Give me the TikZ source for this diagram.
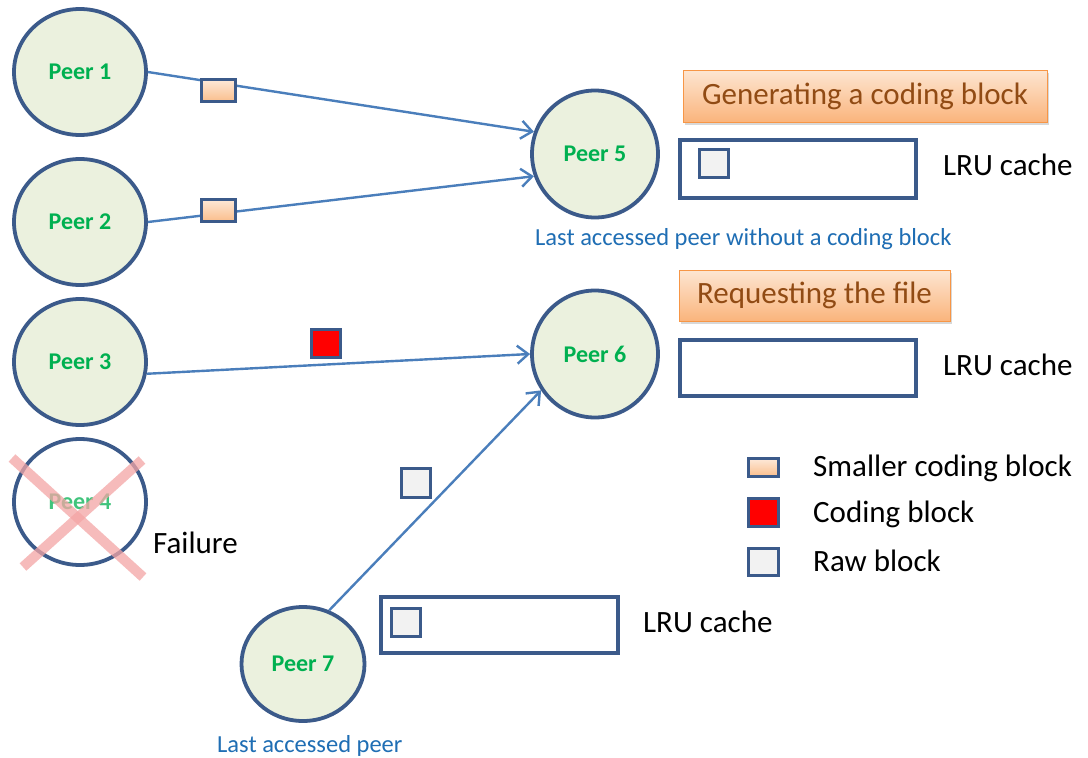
\documentclass[tikz,border=0pt]{standalone}
\usepackage{fontspec}
\setmainfont{Carlito}
\usetikzlibrary{shapes.geometric,arrows.meta,shadows}
\definecolor{peerborder}{RGB}{59,90,138}
\definecolor{peerfill}{RGB}{235,241,222}
\definecolor{peergreen}{RGB}{0,176,80}
\definecolor{linkblue}{RGB}{74,126,187}
\definecolor{captionblue}{RGB}{31,110,180}
\definecolor{labeltext}{RGB}{145,75,20}
\definecolor{labeltop}{RGB}{253,230,210}
\definecolor{labelbot}{RGB}{250,180,124}
\definecolor{labelborder}{RGB}{247,150,70}
\definecolor{smalltop}{RGB}{253,233,217}
\definecolor{smallbot}{RGB}{250,190,140}
\definecolor{rawfill}{RGB}{242,242,242}
\definecolor{crosspink}{RGB}{244,165,165}
\tikzset{
  peer/.style={ellipse, draw=peerborder, line width=3.8pt, fill=peerfill,
    minimum width=132pt, minimum height=126pt, inner sep=0pt,
    font=\fontsize{24}{28}\selectfont\bfseries, text=peergreen},
  link/.style={draw=linkblue, line width=2.4pt,
    -{Straight Barb[length=11pt,width=18pt,line width=2.4pt]}},
  blk/.style={draw=peerborder, line width=3pt, inner sep=0pt},
  smallblk/.style={blk, top color=smalltop, bottom color=smallbot},
  codeblk/.style={blk, fill=red},
  rawblk/.style={blk, fill=rawfill},
  cachebox/.style={draw=peerborder, line width=4pt, inner sep=0pt},
  stagebox/.style={draw=labelborder, line width=0.8pt, top color=labeltop,
    bottom color=labelbot, inner sep=0pt, text=labeltext,
    font=\fontsize{31}{36}\selectfont,
    drop shadow={shadow xshift=2pt, shadow yshift=-3pt, opacity=0.3}},
  txt/.style={anchor=base west, inner sep=0pt, font=\fontsize{31}{36}\selectfont, text=black},
  caption/.style={anchor=base west, inner sep=0pt, font=\fontsize{24.5}{28}\selectfont, text=captionblue},
}
\begin{document}
\begin{tikzpicture}[x=1pt, y=-1pt]
\useasboundingbox[fill=white] (0,0) rectangle (1088,758);

% peers
\node[peer] (p1) at (80,72) {Peer 1};
\node[peer] (p2) at (80,222) {Peer 2};
\node[peer] (p3) at (80,362) {Peer 3};
\node[peer, fill=white, text=peergreen!75] (p4) at (80,502) {Peer 4};
\node[peer, minimum width=126pt, minimum height=127pt] (p5) at (595,154) {Peer 5};
\node[peer, minimum width=126pt, minimum height=127pt] (p6) at (595,354) {Peer 6};
\node[peer, minimum width=123pt, minimum height=114pt] (p7) at (303,664) {Peer 7};

% failure cross
\draw[crosspink, line width=10pt, opacity=0.75] (12,458) -- (143,577);
\draw[crosspink, line width=10pt, opacity=0.75] (142,460) -- (23,567);

% connectors
\draw[link] (p1.east) -- (p5.160);
\draw[link] (p2.east) -- (p5.200);
\draw[link] (p3.-10) -- (p6.west);
\draw[link] (p7.64) -- (p6.214);

% blocks on connectors
\node[smallblk, minimum width=34pt, minimum height=22pt] (b1) at (218.5,90.5) {};
\node[smallblk, minimum width=34pt, minimum height=22pt] (b2) at (218.5,210) {};
\node[codeblk, minimum width=29pt, minimum height=28pt] (b3) at (326,343.5) {};
\node[rawblk, minimum width=29pt, minimum height=29pt] (b7) at (416,483) {};

% stage labels
\node[stagebox, minimum width=364pt, minimum height=52pt] (gen) at (865,96) {Generating a coding block};
\node[stagebox, minimum width=271pt, minimum height=51pt] (req) at (814.5,295.5) {Requesting the file};

% caches
\node[cachebox, minimum width=236pt, minimum height=58pt] (c5) at (798,169) {};
\node[rawblk, minimum width=29pt, minimum height=28pt] (c5b) at (714,163.5) {};
\node[txt] (l5) at (943,175) {LRU cache};
\node[cachebox, minimum width=236pt, minimum height=56pt] (c6) at (798,368) {};
\node[txt] (l6) at (943,375) {LRU cache};
\node[cachebox, minimum width=237pt, minimum height=56pt] (c7) at (499.5,625) {};
\node[rawblk, minimum width=29pt, minimum height=28pt] (c7b) at (406,622.5) {};
\node[txt] (l7) at (643,632) {LRU cache};

% captions
\node[caption] (cap5) at (535,245) {Last accessed peer without a coding block};
\node[caption] (cap7) at (217,752) {Last accessed peer};
\node[txt] (fail) at (153,553) {Failure};

% legend
\node[smallblk, minimum width=30pt, minimum height=18pt] (g1) at (763.5,467.5) {};
\node[txt] (g1t) at (813,476) {Smaller coding block};
\node[codeblk, minimum width=30pt, minimum height=28pt] (g2) at (763.5,512.5) {};
\node[txt] (g2t) at (813,522) {Coding block};
\node[rawblk, minimum width=30pt, minimum height=27pt] (g3) at (763.5,562) {};
\node[txt] (g3t) at (813,571) {Raw block};
\end{tikzpicture}
\end{document}
